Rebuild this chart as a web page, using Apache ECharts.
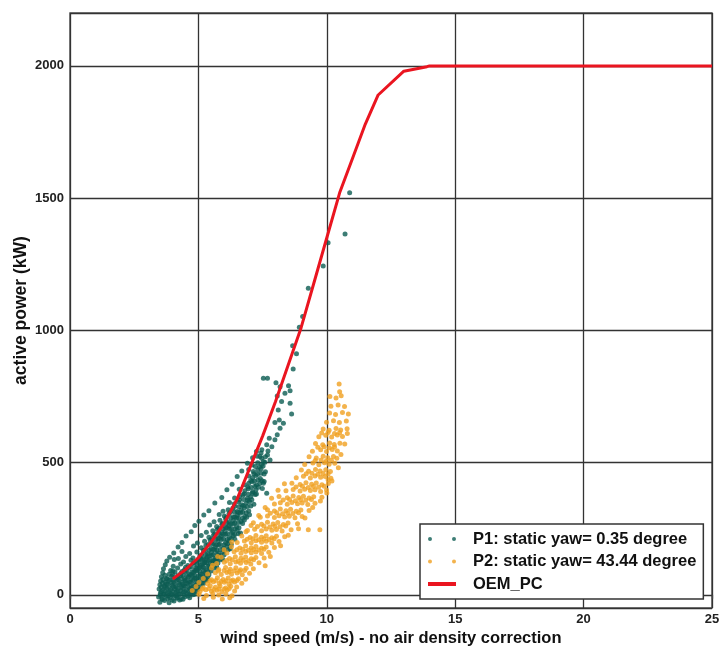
<!DOCTYPE html>
<html>
<head>
<meta charset="utf-8">
<title>power curve</title>
<script src="https://cdn.jsdelivr.net/npm/echarts@6/dist/echarts.min.js"></script>
<style>
  html, body { margin: 0; padding: 0; background: #fff; }
  #chart { width: 720px; height: 648px; }
</style>
</head>
<body>
<div id="chart"></div>
<script>
// OEM power curve (wind speed m/s, power kW)
var oemSpeed = [4, 4.5, 5, 5.5, 6, 6.5, 7, 7.5, 8, 8.5, 9, 9.5, 10, 10.5, 11, 11.5, 12, 13, 13.9, 14, 25];
var oemPower = [60, 95, 140, 200, 270, 360, 480, 600, 730, 870, 1010, 1180, 1350, 1520, 1650, 1780, 1890, 1980, 1997, 2000, 2000];

// P1: static yaw 0.35 deg  [speed, power]
var p1Points = [
  [3.50,-28],[3.68,-22],[3.86,-30],[4.05,-24],[4.27,-20],
  [3.45,-8],[3.58,-14],[3.74,-6],[3.90,-12],[4.04,-4],[4.18,-10],[4.33,-16],[4.48,-7],[4.66,-11],
  [3.52,6],[3.64,2],[3.79,9],[3.93,3],[4.11,7],[4.24,1],[4.41,10],[4.56,4],[4.71,8],[4.86,2],
  [3.47,22],[3.61,17],[3.77,25],[3.92,19],[4.07,23],[4.21,15],[4.37,26],[4.53,18],[4.67,24],[4.83,16],[4.99,21],
  [3.50,38],[3.67,33],[3.81,41],[3.98,36],[4.13,30],[4.27,39],[4.44,34],[4.59,42],[4.73,31],[4.91,37],[5.08,33],
  [3.53,52],[3.71,47],[3.87,55],[4.04,49],[4.21,57],[4.36,46],[4.49,53],[4.66,48],[4.80,56],[4.97,50],[5.14,45],[5.29,54],
  [3.56,68],[3.76,62],[3.96,70],[4.14,64],[4.31,72],[4.46,61],[4.61,67],[4.76,73],[4.89,63],[5.06,69],[5.21,60],[5.36,66],
  [3.61,83],[3.86,78],[4.09,86],[4.31,80],[4.49,88],[4.66,77],[4.81,84],[4.94,90],[5.11,79],[5.26,85],[5.41,76],
  [3.64,98],[3.92,92],[4.19,101],[4.46,95],[4.64,103],[4.86,93],[5.01,99],[5.16,106],[5.31,94],[5.46,100],
  [3.71,114],[4.02,108],[4.31,116],[4.59,111],[4.81,119],[4.96,107],[5.11,113],[5.24,121],[5.41,110],[5.56,117],[5.71,106],
  [3.77,128],[4.06,133],[4.42,124],[4.71,131],[4.94,127],[5.09,135],[5.26,122],[5.39,130],[5.56,126],[5.69,134],
  [3.88,142],[4.22,137],[4.51,145],[4.79,139],[5.06,147],[5.21,136],[5.34,143],[5.51,149],[5.66,138],[5.81,144],[5.94,135],
  [4.04,158],[4.36,164],[4.66,156],[4.94,162],[5.19,167],[5.36,155],[5.51,161],[5.64,168],[5.79,157],[5.96,163],
  [4.21,181],[4.81,184],[5.11,178],[5.29,186],[5.49,175],[5.66,182],[5.79,188],[5.96,177],[6.11,183],[6.24,174],
  [4.36,198],[4.96,196],[5.24,202],[5.46,207],[5.59,195],[5.76,201],[5.89,209],[6.06,197],[6.19,203],
  [4.52,222],[5.11,224],[5.41,218],[5.59,226],[5.76,215],[5.89,221],[6.06,228],[6.21,217],[6.36,223],
  [4.72,238],[5.31,236],[5.56,242],[5.74,247],[5.91,235],[6.04,241],[6.21,249],[6.34,237],[6.51,243],[6.64,234],
  [4.86,262],[5.44,264],[5.71,258],[5.91,266],[6.06,255],[6.19,261],[6.36,268],[6.49,257],
  [5.02,278],[5.61,276],[5.84,282],[6.06,287],[6.19,275],[6.36,281],[6.49,289],[6.66,277],[6.79,283],
  [5.21,302],[5.81,304],[6.01,298],[6.19,306],[6.36,295],[6.51,301],[6.64,308],[6.81,297],[6.99,303],
  [5.41,318],[5.96,316],[6.16,322],[6.34,327],[6.51,315],[6.66,321],[6.79,329],[6.96,317],
  [5.64,347],[6.21,349],[6.39,343],[6.56,351],[6.69,340],[6.86,346],[6.99,353],[7.16,342],
  [5.91,368],[6.41,366],[6.61,372],[6.74,377],[6.91,365],[7.04,371],[7.21,379],
  [6.11,397],[6.59,399],[6.81,393],[6.94,401],[7.11,390],[7.24,396],[7.49,402],
  [6.31,418],[6.79,416],[6.96,422],[7.09,427],[7.26,415],[7.39,421],[7.56,428],
  [6.51,447],[6.96,449],[7.11,443],[7.24,451],[7.41,440],
  [6.69,468],[6.96,474],[7.14,466],[7.31,472],[7.44,477],[7.61,465],
  [6.91,497],[7.09,491],[7.31,499],[7.46,493],[7.59,501],
  [7.11,518],[7.29,524],[7.46,516],[7.61,522],
  [7.26,542],[7.44,536],[7.71,544],
  [7.53,504],[7.79,510],[7.40,523],[7.69,529],[7.47,548],[7.86,560],[7.66,567],[7.98,586],[7.76,592],
  [8.07,605],[8.18,630],[8.31,649],[7.98,651],[8.15,661],[8.63,684],[8.11,699],[8.57,724],[8.24,731],
  [8.07,752],[8.37,762],[8.57,772],[8.51,790],[8.18,787],[8.02,802],[7.53,819],[7.69,819],
  [8.69,854],[8.82,911],[8.67,942],[8.93,1012],[9.06,1052],[9.28,1159],[9.86,1243],[10.05,1331],
  [10.71,1364],[10.89,1520],[7.66,384],[7.53,422]
];

var p1Core = [
  [3.60,-18],[3.80,-15],[3.98,-20],[4.16,-13],[4.40,-17],
  [3.52,-2],[3.68,1],[3.84,-4],[3.98,0],[4.14,-3],[4.30,2],[4.44,-1],[4.60,-5],[4.78,0],
  [3.55,12],[3.70,14],[3.86,10],[4.00,13],[4.16,11],[4.32,15],[4.48,12],[4.63,10],[4.78,14],[4.93,11],
  [3.55,28],[3.70,30],[3.86,27],[4.02,31],[4.18,26],[4.33,29],[4.48,32],[4.64,27],[4.79,30],[4.95,28],
  [3.60,44],[3.76,42],[3.92,46],[4.08,43],[4.24,45],[4.40,41],[4.55,44],[4.70,47],[4.86,42],[5.02,45],[5.20,43],
  [3.62,58],[3.80,60],[4.00,57],[4.17,59],[4.34,61],[4.52,56],[4.70,59],[4.85,62],[5.00,57],[5.17,60],[5.32,58],
  [3.70,74],[4.00,76],[4.20,72],[4.40,75],[4.56,73],[4.72,77],[4.86,74],[5.00,71],[5.16,76],[5.30,73],
  [4.00,90],[4.36,88],[4.56,91],[4.75,87],[4.90,92],[5.06,89],[5.20,91],[5.36,88],[5.50,90],
  [4.50,104],[4.72,106],[4.90,102],[5.06,105],[5.20,103],[5.36,107],[5.50,104],[5.64,101],
  [4.85,120],[5.02,122],[5.18,118],[5.32,121],[5.48,119],[5.62,123],[5.76,120],
  [5.00,134],[5.15,132],[5.30,136],[5.45,133],[5.60,131],[5.74,135],[5.88,132],
  [5.12,150],[5.28,152],[5.42,148],[5.58,151],[5.72,153],[5.86,149],[6.00,151],
  [5.26,170],[5.42,168],[5.58,172],[5.72,169],[5.86,171],[6.02,167],[6.16,170],
  [5.38,190],[5.54,192],[5.70,188],[5.84,191],[6.00,189],[6.14,193],[6.28,190],
  [5.52,212],[5.68,210],[5.82,214],[5.98,211],[6.12,209],[6.28,213],[6.42,210],
  [5.64,230],[5.80,232],[5.96,229],[6.12,231],[6.28,233],[6.42,228],[6.56,231],
  [5.80,252],[5.96,250],[6.12,254],[6.28,251],[6.42,249],[6.58,253],
  [5.94,270],[6.10,272],[6.26,269],[6.42,271],[6.56,273],[6.72,270],
  [6.08,292],[6.26,290],[6.42,294],[6.56,291],[6.72,289],[6.88,293],
  [6.24,312],[6.40,314],[6.56,311],[6.72,313],[6.86,310],
  [6.42,335],[6.58,333],[6.74,337],[6.90,334],[7.04,336],
  [6.60,358],[6.76,360],[6.92,357],[7.08,359],
  [6.78,382],[6.94,380],[7.10,384],[7.26,381],
  [6.92,408],[7.06,406],[7.20,410],[7.34,407],
  [7.04,432],[7.18,430],[7.32,434],[7.48,431],
  [7.16,458],[7.30,456],[7.44,460],[7.56,457],
  [7.22,485],[7.38,483],[7.52,487]
];

// P2: static yaw 43.44 deg  [speed, power]
var p2Points = [
  [5.21,-14],[5.58,-9],[5.93,-16],[6.22,-11],
  [5.02,2],[5.31,-3],[5.56,4],[5.79,-1],[6.07,3],[6.31,-4],
  [4.76,16],[5.06,12],[5.29,19],[5.51,13],[5.72,17],[5.91,11],[6.12,18],[6.41,14],
  [4.91,31],[5.19,27],[5.46,34],[5.66,28],[5.84,33],[6.06,26],[6.26,32],[6.49,29],
  [5.02,46],[5.36,42],[5.59,49],[5.81,43],[6.01,47],[6.19,41],[6.41,48],[6.69,44],
  [5.19,62],[5.51,57],[5.74,64],[5.96,58],[6.16,63],[6.34,56],[6.56,61],[6.84,59],
  [5.36,79],[5.66,83],[5.89,77],[6.11,84],[6.29,78],[6.51,82],[6.71,76],[6.99,81],
  [5.51,101],[5.79,96],[6.06,103],[6.24,97],[6.46,102],[6.64,95],[6.86,100],[7.14,98],
  [5.71,118],[6.01,123],[6.24,117],[6.46,124],[6.64,119],[6.86,122],[7.04,116],[7.36,121],
  [5.89,142],[6.21,137],[6.44,144],[6.66,138],[6.84,143],[7.06,136],[7.24,141],[7.56,139],
  [6.11,158],[6.39,163],[6.66,157],[6.84,164],[7.06,159],[7.24,162],[7.46,156],[7.74,161],
  [6.29,182],[6.61,177],[6.84,184],[7.06,178],[7.24,183],[7.46,176],[7.64,181],[7.96,179],
  [6.51,198],[6.79,203],[7.06,197],[7.24,204],[7.46,199],[7.64,202],[7.86,196],[8.14,201],
  [6.69,222],[7.01,217],[7.24,224],[7.46,218],[7.64,223],[7.86,216],[8.04,221],[8.36,219],
  [6.91,243],[7.19,248],[7.46,242],[7.64,249],[7.86,244],[8.04,247],[8.26,241],[8.61,246],
  [7.14,272],[7.46,267],[7.69,274],[7.91,268],[8.09,273],[8.31,266],[8.49,271],[8.86,269],
  [7.41,293],[7.69,298],[7.96,292],[8.14,299],[8.36,294],[8.54,297],[8.76,291],[9.04,296],
  [7.69,322],[7.96,317],[8.19,324],[8.41,318],[8.59,323],[8.81,316],[8.99,321],[9.31,319],
  [7.96,343],[8.19,348],[8.46,342],[8.64,349],[8.86,344],[9.04,347],[9.26,341],[9.54,346],
  [8.14,372],[8.46,367],[8.69,374],[8.91,368],[9.09,373],[9.31,366],[9.49,371],[9.81,369],
  [8.41,393],[8.69,398],[8.96,392],[9.14,399],[9.36,394],[9.54,397],[9.76,391],[9.99,396],
  [8.64,422],[8.96,417],[9.19,424],[9.41,418],[9.59,423],[9.81,416],[10.06,421],
  [8.81,443],[9.09,448],[9.36,442],[9.54,449],[9.76,444],[9.94,447],[10.16,441],
  [9.01,472],[9.29,467],[9.56,474],[9.74,468],[9.96,473],[10.14,466],
  [9.14,493],[9.46,498],[9.69,492],[9.91,499],[10.09,494],[10.31,497],
  [9.31,522],[9.59,517],[9.86,524],[10.04,518],[10.26,523],[10.39,516],
  [9.44,543],[9.76,548],[9.99,542],[10.21,549],[10.41,544],
  [9.56,572],[9.84,567],[10.11,574],[10.29,568],[10.51,573],
  [9.69,598],[9.96,603],[10.19,597],[10.41,604],[10.61,599],
  [9.86,627],[10.09,622],[10.36,629],[10.54,623],[10.79,628],
  [9.99,652],[10.26,658],[10.49,651],[10.76,657],
  [10.11,687],[10.34,682],[10.61,689],[10.84,684],
  [10.16,713],[10.44,718],[10.69,712],
  [10.12,750],[10.36,744],[10.56,753],
  [10.50,768],[10.48,797],
  [9.28,246],[9.73,246],[10.05,435]
];

// P2 middle of the band
var p2Core = [
  [5.15,22],[5.40,24],[5.60,20],[5.80,23],[6.00,21],[6.20,24],
  [5.45,52],[5.68,54],[5.88,50],[6.08,53],[6.28,51],[6.50,54],
  [5.78,90],[6.00,92],[6.20,88],[6.40,91],[6.60,89],[6.80,92],
  [6.10,130],[6.32,132],[6.55,128],[6.75,131],[6.95,129],[7.15,132],
  [6.50,170],[6.72,172],[6.95,168],[7.15,171],[7.35,169],[7.55,172],
  [6.90,210],[7.12,212],[7.35,208],[7.55,211],[7.75,209],[7.95,212],
  [7.30,258],[7.55,260],[7.78,256],[7.98,259],[8.18,257],[8.40,260],
  [7.80,308],[8.05,310],[8.28,306],[8.48,309],[8.68,307],[8.90,310],
  [8.30,358],[8.55,360],[8.78,356],[8.98,359],[9.18,357],[9.40,360],
  [8.80,408],[9.05,410],[9.28,406],[9.48,409],[9.68,407],[9.90,410],
  [9.20,458],[9.42,460],[9.65,456],[9.85,459],[10.05,457],
  [9.55,508],[9.78,510],[9.98,506],[10.18,509],
  [9.65,558],[9.90,560],[10.10,556],[10.30,559],
  [9.80,612],[10.05,614],[10.30,610],[10.50,613]
];

// P2 loose points along both edges of the band
var p2Edge = [
  [5.55,112],[5.75,145],[6.00,170],[6.30,200],[6.85,238],[7.05,262],[7.35,300],
  [7.60,330],[7.85,365],[8.10,395],[8.35,420],
  [7.60,110],[7.80,145],[8.20,185],[8.50,225],[8.90,250],[9.15,290],[9.45,330],
  [9.75,355],[10.00,385],[10.20,430],[10.45,480],[10.55,530],[10.70,570],[10.80,610]
];

var xTicks = [0, 5, 10, 15, 20, 25];
var dotsIcon = 'path://M0,2a2,2 0 1,0 4,0a2,2 0 1,0 -4,0M24,2a2,2 0 1,0 4,0a2,2 0 1,0 -4,0';

var chart = echarts.init(document.getElementById('chart'));
var fontFamily = '"Liberation Sans", Arial, sans-serif';

chart.setOption({
  animation: false,
  grid: {
    left: 70,
    right: 8,
    top: 13,
    bottom: 40,
    outerBoundsMode: 'none',
    containLabel: false,
    show: true,
    borderColor: '#555',
    borderWidth: 1.5,
    backgroundColor: '#fff'
  },
  legend: {
    orient: 'vertical',
    left: 420,
    top: 524,
    padding: [6, 7, 6, 8],
    itemGap: 4.5,
    itemWidth: 28,
    itemHeight: 4,
    backgroundColor: '#fff',
    borderColor: '#333',
    borderWidth: 1.5,
    borderRadius: 0,
    textStyle: {
      fontFamily: fontFamily,
      fontWeight: 'bold',
      fontSize: 16.5,
      color: '#111',
      lineHeight: 18,
      padding: [0, 0, 0, 12]
    },
    data: [
      { name: 'P1: static yaw= 0.35 degree', icon: dotsIcon },
      { name: 'P2: static yaw= 43.44 degree', icon: dotsIcon },
      { name: 'OEM_PC', icon: 'rect' }
    ]
  },
  xAxis: {
    type: 'value',
    min: 0,
    max: 25,
    interval: 5,
    name: 'wind speed (m/s) - no air density correction',
    nameLocation: 'middle',
    nameGap: 22,
    nameMoveOverlap: false,
    nameTextStyle: { fontFamily: fontFamily, fontWeight: 'bold', fontSize: 16.5, color: '#111' },
    axisLine: { show: false },
    axisTick: { show: true, length: 4, lineStyle: { color: '#444', width: 1.3 } },
    axisLabel: {
      fontFamily: fontFamily, fontWeight: 'bold', fontSize: 13, color: '#222', margin: 5,
      formatter: function (v) { return xTicks.indexOf(v) >= 0 ? String(v) : ''; }
    },
    splitLine: { show: true, lineStyle: { color: '#333', width: 1.3 } }
  },
  yAxis: {
    type: 'value',
    min: -50,
    max: 2200,
    splitNumber: 5,
    name: 'active power (kW)',
    nameLocation: 'middle',
    nameGap: 40,
    nameMoveOverlap: false,
    nameTextStyle: { fontFamily: fontFamily, fontWeight: 'bold', fontSize: 17.5, color: '#111' },
    axisLine: { show: false },
    axisTick: { show: false },
    axisLabel: {
      fontFamily: fontFamily, fontWeight: 'bold', fontSize: 13, color: '#222', margin: 6,
      showMinLabel: false, showMaxLabel: false,
      formatter: function (v) { return String(v); }
    },
    splitLine: { show: true, lineStyle: { color: '#333', width: 1.3 } }
  },
  series: [
    {
      name: 'P1: static yaw= 0.35 degree',
      type: 'scatter',
      data: p1Points.concat(p1Core),
      symbolSize: 5,
      itemStyle: { color: '#0d5c52' },
      z: 2
    },
    {
      name: 'P2: static yaw= 43.44 degree',
      type: 'scatter',
      data: p2Points.concat(p2Core, p2Edge),
      symbolSize: 5,
      itemStyle: { color: '#f0a020' },
      z: 2
    },
    {
      name: 'OEM_PC',
      type: 'line',
      data: oemSpeed.map(function (s, i) { return [s, oemPower[i]]; }),
      symbol: 'none',
      lineStyle: { color: '#ea1520', width: 3 },
      itemStyle: { color: '#ea1520' },
      z: 3
    }
  ]
});
</script>
</body>
</html>
